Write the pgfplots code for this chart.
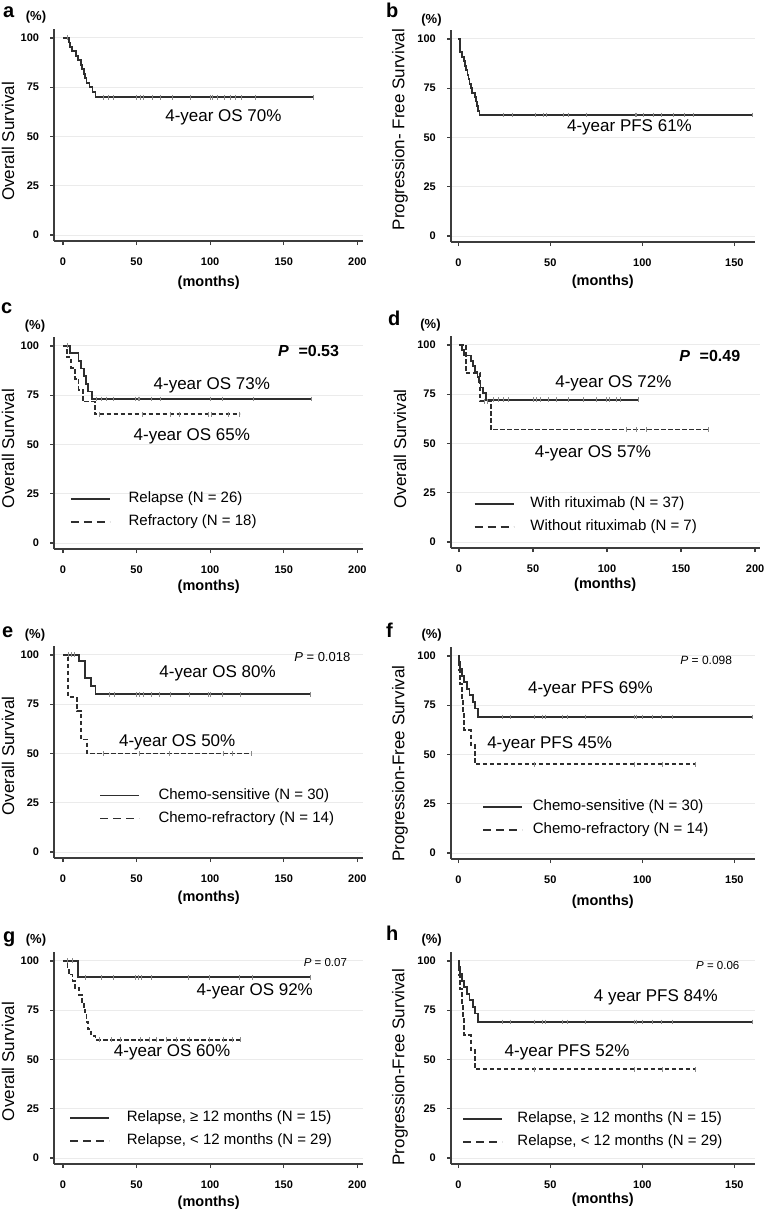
\documentclass[border=0pt]{standalone}
\usepackage{fontspec}
\setmainfont{Liberation Sans}
\usepackage{pgfplots}
\pgfplotsset{compat=1.18}
\definecolor{curve}{HTML}{2E2E2E}
\definecolor{cens}{HTML}{8A8A8A}
\definecolor{axisc}{HTML}{3C3C3C}
\definecolor{gridc}{HTML}{EBEBEB}
\pgfplotsset{
  km/.style={
    scale only axis, height=212pt,
    axis x line*=bottom, axis y line*=left,
    axis line style={line width=1.8pt, draw=axisc, -},
    ymin=-3, ymax=104.5, ytick={0,25,50,75,100},
    ymajorgrids, grid style={draw=gridc, line width=0.9pt},
    tick align=outside, major tick length=4pt,
    major tick style={line width=1.3pt, draw=axisc},
    /pgf/number format/assume math mode=true,
    ticklabel style={font=\bfseries\fontsize{11}{13}\selectfont, inner sep=0pt},
    xticklabel style={anchor=center, yshift=-17pt},
    yticklabel style={anchor=east, xshift=-11pt},
    xlabel={(months)},
    xlabel style={font=\bfseries\fontsize{14.5}{16}\selectfont, at={(axis description cs:0.5,0)}, anchor=center},
    ylabel style={font=\fontsize{17}{20}\selectfont, anchor=center},
    clip=false,
    legend cell align=left,
    legend image code/.code={\draw[#1, line width=1.8pt] (0pt,0pt) -- (39pt,0pt);},
    legend style={draw=none, fill=none, inner sep=0pt, outer sep=0pt, anchor=north west, row sep=8pt, column sep=0pt,
      font=\fontsize{15}{17}\selectfont, nodes={inner sep=0pt, text height=11pt, text depth=4pt}},
  },
  leftcol/.style={width=309pt, xmin=-6, xmax=204, xtick={0,50,100,150,200}},
  rightcol/.style={width=303.6pt, xmin=-4, xmax=161, xtick={0,50,100,150}},
  legw/.style={legend style={/tikz/every odd column/.append style={column sep=#1}}},
  kms/.style={const plot, draw=curve, line width=1.8pt, mark=none, forget plot},
  kmd/.style={kms, dash pattern=on 4.5pt off 2.5pt},
  cens/.style={only marks, mark=|, mark size=2.4pt, mark options={draw=cens, line width=0.8pt, solid}, forget plot},
}
\newcommand{\ann}{\fontsize{17}{20}\selectfont}
\newcommand{\lab}{\bfseries\fontsize{20}{22}\selectfont}
\newcommand{\pct}{\bfseries\fontsize{13}{15}\selectfont}
\begin{document}
\begin{tikzpicture}
\useasboundingbox (0pt,0pt) rectangle (766pt,-1213pt);
\fill[white] (0pt,0pt) rectangle (766pt,-1213pt);
% panel letters and (%)
\node[font=\lab, anchor=base west, inner sep=0pt] at (3pt,-17pt) {a};
\node[font=\pct] at (36pt,-17pt) {(\%)};
\node[font=\lab, anchor=base west, inner sep=0pt] at (386pt,-17pt) {b};
\node[font=\pct] at (431.5pt,-20pt) {(\%)};
\node[font=\lab, anchor=base west, inner sep=0pt] at (1pt,-313pt) {c};
\node[font=\pct] at (35pt,-326pt) {(\%)};
\node[font=\lab, anchor=base west, inner sep=0pt] at (388pt,-325pt) {d};
\node[font=\pct] at (430.5pt,-325pt) {(\%)};
\node[font=\lab, anchor=base west, inner sep=0pt] at (2pt,-637pt) {e};
\node[font=\pct] at (35pt,-635pt) {(\%)};
\node[font=\lab, anchor=base west, inner sep=0pt] at (386pt,-637pt) {f};
\node[font=\pct] at (431.7pt,-635pt) {(\%)};
\node[font=\lab, anchor=base west, inner sep=0pt] at (3pt,-942pt) {g};
\node[font=\pct] at (36pt,-940pt) {(\%)};
\node[font=\lab, anchor=base west, inner sep=0pt] at (386pt,-940pt) {h};
\node[font=\pct] at (431.7pt,-940pt) {(\%)};

% ---------- a ----------
\begin{axis}[km, leftcol, at={(54.2pt,-241pt)}, anchor=south west,
  ylabel={Overall Survival}, ylabel style={at={(axis description cs:-0.1495,0.47)}},
  xlabel style={yshift=-42pt}]
\addplot[kms] coordinates {(0,100)(4,97.7)(5,95.5)(6,93.2)(9,90.9)(10,88.6)(12,86.4)(13,84.1)(14,81.8)(15,79.5)(16,77.3)(18,75)(20,72.7)(22,69.9)(170,69.9)};
\addplot[cens] coordinates {(3,100)(27.6,69.9)(31,69.9)(34.4,69.9)(49.8,69.9)(52.5,69.9)(54.8,69.9)(60.4,69.9)(66,69.9)(74,69.9)(86.4,69.9)(100,69.9)(101.5,69.9)(105,69.9)(110,69.9)(113.6,69.9)(117,69.9)(121.5,69.9)(130.5,69.9)(170,69.9)};
\node[font=\ann] at (axis cs:109,59.8) {4-year OS 70\%};
\end{axis}

% ---------- b ----------
\begin{axis}[km, rightcol, at={(451pt,-242pt)}, anchor=south west,
  ylabel={Progression- Free Survival}, ylabel style={at={(axis description cs:-0.168,0.53)}},
  xlabel style={yshift=-40pt}]
\addplot[kms] coordinates {(0,100)(0.7,95.5)(1,93.2)(2,90.9)(3,88.6)(3.5,86.4)(4,84.1)(5,81.8)(5.5,79.5)(6,77.3)(7,75)(7.5,72.7)(9,70.5)(9.5,68.2)(10,65.9)(10.5,63.6)(11.5,61.4)(160,61.4)};
\addplot[cens] coordinates {(24.6,61.4)(29.1,61.4)(41.8,61.4)(46.3,61.4)(48.1,61.4)(57.1,61.4)(59.9,61.4)(69.8,61.4)(96,61.4)(96.9,61.4)(100.5,61.4)(105.9,61.4)(110.5,61.4)(116.8,61.4)(123.1,61.4)(127.7,61.4)(160,61.4)};
\node[font=\ann] at (axis cs:93,55.2) {4-year PFS 61\%};
\end{axis}

% ---------- c ----------
\begin{axis}[km, leftcol, at={(54.2pt,-549pt)}, anchor=south west, legw=17.7pt,
  ylabel={Overall Survival}, ylabel style={at={(axis description cs:-0.1495,0.474)}},
  xlabel style={yshift=-38pt},
  legend style={at={(axis cs:4.8,26.1)}}]
\addplot[kms] coordinates {(0,100)(4.5,96.2)(10.5,92.3)(12,88.5)(14,84.6)(15.5,80.8)(17,76.9)(19.5,73.1)(169,73.1)};
\addplot[cens] coordinates {(2.7,100)(22.9,73.1)(26.2,73.1)(29.6,73.1)(34.1,73.1)(49.3,73.1)(50.9,73.1)(52,73.1)(59.9,73.1)(65.9,73.1)(100.4,73.1)(108.5,73.1)(129.4,73.1)(169,73.1)};
\addplot[kmd] coordinates {(0,100)(2.5,94.4)(5.5,88.9)(8,83.3)(10.5,77.8)(13.5,71.8)(21.5,65.3)(120,65.3)};
\addplot[cens] coordinates {(25,65.3)(54,65.3)(73,65.3)(79,65.3)(99,65.3)(100.5,65.3)(112.6,65.3)(120,65.3)};
\addlegendimage{draw=curve}
\addlegendentry{Relapse (N = 26)}
\addlegendimage{draw=curve, dash pattern=on 8pt off 5pt}
\addlegendentry{Refractory (N = 18)}
\node[font=\fontsize{16}{18}\selectfont\bfseries] at (axis cs:166.9,97.4) {\textit{P}\hspace{0.6em}=0.53};
\node[font=\ann] at (axis cs:101.1,79.8) {4-year OS 73\%};
\node[font=\ann] at (axis cs:87.5,53.9) {4-year OS 65\%};
\end{axis}

% ---------- d ----------
\begin{axis}[km, width=308.6pt, xmin=-5.5, xmax=203, xtick={0,50,100,150,200}, at={(450.9pt,-548pt)}, anchor=south west, legw=16pt,
  ylabel={Overall Survival}, ylabel style={at={(axis description cs:-0.165,0.467)}},
  xlabel style={yshift=-37pt},
  legend style={at={(axis cs:9.9,23.2)}}]
\addplot[kms] coordinates {(0,100)(2,97.3)(3.5,94.6)(8,91.9)(9.5,89.2)(11,86.5)(12.5,83.8)(13.5,81.1)(14.5,78.4)(16,75.7)(18,72.2)(121,72.2)};
\addplot[cens] coordinates {(23.2,72.2)(26.6,72.2)(30,72.2)(33.3,72.2)(50.2,72.2)(52,72.2)(54.7,72.2)(60.4,72.2)(66,72.2)(73.9,72.2)(84,72.2)(93,72.2)(99.8,72.2)(101.6,72.2)(106.5,72.2)(109.2,72.2)(121,72.2)};
\addplot[kmd] coordinates {(0,100)(4.5,85.7)(14.2,71.4)(21.4,57.1)(168.5,57.1)};
\addplot[cens] coordinates {(17,71.4)(19,71.4)(113,57.1)(120,57.1)(126.8,57.1)(168.5,57.1)};
\addlegendimage{draw=curve}
\addlegendentry{With rituximab (N = 37)}
\addlegendimage{draw=curve, dash pattern=on 8pt off 5pt}
\addlegendentry{Without rituximab (N = 7)}
\node[font=\fontsize{16}{18}\selectfont\bfseries] at (axis cs:169.4,94.6) {\textit{P}\hspace{0.6em}=0.49};
\node[font=\ann] at (axis cs:104.3,80.6) {4-year OS 72\%};
\node[font=\ann] at (axis cs:90.5,45.1) {4-year OS 57\%};
\end{axis}

% ---------- e ----------
\begin{axis}[km, leftcol, at={(54.2pt,-858pt)}, anchor=south west, legw=18.4pt,
  ylabel={Overall Survival}, ylabel style={at={(axis description cs:-0.1495,0.482)}},
  xlabel style={yshift=-40pt},
  legend style={at={(axis cs:24.7,32.5)}}]
\addplot[kms] coordinates {(0,100)(10.8,96.7)(15,88.4)(19,84.2)(22,80)(168,80)};
\addplot[cens] coordinates {(3.8,100)(6,100)(7.6,100)(31.8,80)(35.2,80)(49.8,80)(52,80)(54.7,80)(59.9,80)(65.5,80)(73.3,80)(85.7,80)(99.1,80)(100.2,80)(108.5,80)(120.4,80)(168,80)};
\addplot[kmd] coordinates {(0,100)(3.6,78.6)(9.3,71.4)(12.2,57.1)(16.5,50)(128,50)};
\addplot[cens] coordinates {(27.4,50)(52,50)(72.2,50)(109,50)(114.8,50)(128,50)};
\addlegendimage{draw=curve}
\addlegendentry{Chemo-sensitive (N = 30)}
\addlegendimage{draw=curve, dash pattern=on 8pt off 5pt}
\addlegendentry{Chemo-refractory (N = 14)}
\node[font=\fontsize{13}{15}\selectfont] at (axis cs:176.2,99.1) {\textit{P} = 0.018};
\node[font=\ann] at (axis cs:105,90.8) {4-year OS 80\%};
\node[font=\ann] at (axis cs:77.6,55.7) {4-year OS 50\%};
\end{axis}

% ---------- f ----------
\begin{axis}[km, rightcol, at={(451pt,-859pt)}, anchor=south west, legw=10pt,
  ylabel={Progression-Free Survival}, ylabel style={at={(axis description cs:-0.168,0.45)}},
  xlabel style={yshift=-43pt},
  legend style={at={(axis cs:12.9,27.1)}}]
\addplot[kms] coordinates {(0,100)(0.5,96.7)(1,93.3)(2,90)(3,86.7)(4.5,83.3)(6,80)(8,76.7)(9,73.3)(10.5,69)(160,69)};
\addplot[cens] coordinates {(24,69)(28.5,69)(41.2,69)(45.7,69)(47.5,69)(56.6,69)(59.3,69)(69.3,69)(95.6,69)(96.6,69)(100.2,69)(105.6,69)(110.2,69)(116.5,69)(160,69)};
\addplot[kmd] coordinates {(0,100)(0.5,92.9)(1,85.7)(2,78.6)(2.5,71.4)(3,62.5)(6.7,54.7)(9,45)(129,45)};
\addplot[cens] coordinates {(41.2,45)(95.6,45)(111,45)(129,45)};
\addlegendimage{draw=curve}
\addlegendentry{Chemo-sensitive (N = 30)}
\addlegendimage{draw=curve, dash pattern=on 8pt off 5pt}
\addlegendentry{Chemo-refractory (N = 14)}
\node[font=\fontsize{12}{14}\selectfont] at (axis cs:134.7,97.8) {\textit{P} = 0.098};
\node[font=\ann] at (axis cs:71.8,83.1) {4-year PFS 69\%};
\node[font=\ann] at (axis cs:49.6,54.9) {4-year PFS 45\%};
\end{axis}

% ---------- g ----------
\begin{axis}[km, leftcol, at={(54.2pt,-1164pt)}, anchor=south west, legw=16.7pt,
  ylabel={Overall Survival}, ylabel style={at={(axis description cs:-0.1495,0.483)}},
  xlabel style={yshift=-39pt},
  legend style={at={(axis cs:4.3,24.1)}}]
\addplot[kms] coordinates {(0,100)(10.4,91.7)(168.4,91.7)};
\addplot[cens] coordinates {(2.7,100)(6.1,100)(15.1,91.7)(26.4,91.7)(34.3,91.7)(48.9,91.7)(51.2,91.7)(53.4,91.7)(60.2,91.7)(85,91.7)(99.7,91.7)(120,91.7)(129,91.7)(168.4,91.7)};
\addplot[kmd] coordinates {(0,100)(3,96.6)(4,93.1)(6.5,89.7)(8,86.2)(11,82.8)(13,79.3)(14,75.9)(15,72.4)(16,69)(17,65.5)(19,62.1)(22,60)(120.4,60)};
\addplot[cens] coordinates {(25,60)(33,60)(38.8,60)(52.3,60)(59,60)(63.6,60)(70.3,60)(77,60)(86,60)(99.7,60)(108.7,60)(115.4,60)(120.4,60)};
\addlegendimage{draw=curve}
\addlegendentry{Relapse, ≥ 12 months (N = 15)}
\addlegendimage{draw=curve, dash pattern=on 8pt off 5pt}
\addlegendentry{Relapse, < 12 months (N = 29)}
\node[font=\fontsize{11.5}{14}\selectfont] at (axis cs:178.3,99) {\textit{P} = 0.07};
\node[font=\ann] at (axis cs:130.3,84.4) {4-year OS 92\%};
\node[font=\ann] at (axis cs:74.1,53.7) {4-year OS 60\%};
\end{axis}

% ---------- h ----------
\begin{axis}[km, rightcol, at={(451pt,-1164pt)}, anchor=south west, legw=14.4pt,
  ylabel={Progression-Free Survival}, ylabel style={at={(axis description cs:-0.168,0.457)}},
  xlabel style={yshift=-36pt},
  legend style={at={(axis cs:2.1,23.8)}}]
\addplot[kms] coordinates {(0,100)(0.5,96.7)(1,93.3)(2,90)(3,86.7)(4.5,83.3)(6,80)(8,76.7)(9,73.3)(10.5,69)(160,69)};
\addplot[cens] coordinates {(24,69)(28.5,69)(41.2,69)(45.7,69)(47.5,69)(56.6,69)(59.3,69)(69.3,69)(95.6,69)(96.6,69)(100.2,69)(105.6,69)(110.2,69)(116.5,69)(160,69)};
\addplot[kmd] coordinates {(0,100)(0.5,92.9)(1,85.7)(2,78.6)(2.5,71.4)(3,62.5)(6.7,54.7)(9,45)(129,45)};
\addplot[cens] coordinates {(41.2,45)(95.6,45)(111,45)(129,45)};
\addlegendimage{draw=curve}
\addlegendentry{Relapse, ≥ 12 months (N = 15)}
\addlegendimage{draw=curve, dash pattern=on 8pt off 5pt}
\addlegendentry{Relapse, < 12 months (N = 29)}
\node[font=\fontsize{11.5}{14}\selectfont] at (axis cs:141,97.5) {\textit{P} = 0.06};
\node[font=\ann] at (axis cs:107.3,81.5) {4 year PFS 84\%};
\node[font=\ann] at (axis cs:59.1,53.4) {4-year PFS 52\%};
\end{axis}
\end{tikzpicture}
\end{document}
